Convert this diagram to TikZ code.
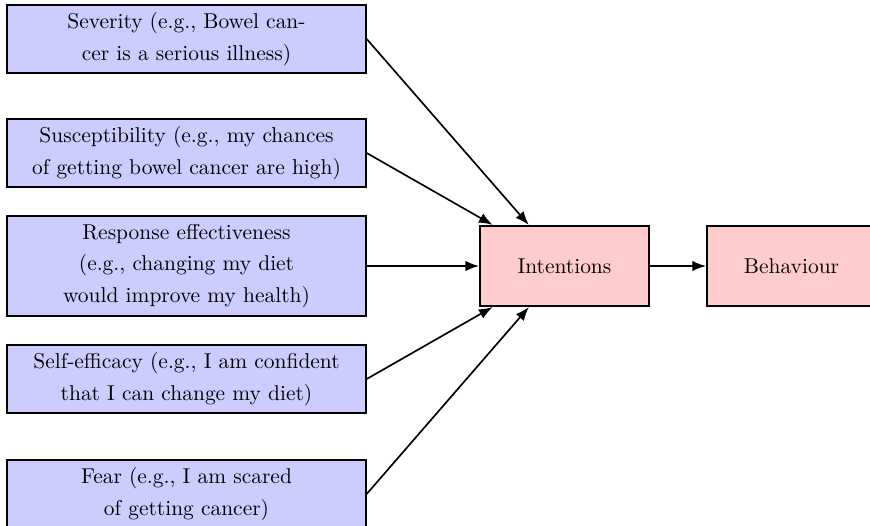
\documentclass[tikz,border=0pt]{standalone}
\usetikzlibrary{arrows.meta}
\begin{document}
\begin{tikzpicture}[x=0.48pt,y=-0.48pt,
  cause/.style={draw=black, line width=1pt, fill=blue!20, minimum width=172pt,
    align=center, font=\fontsize{10.3}{15.1}\selectfont, inner sep=0pt},
  twoline/.style={minimum height=32.6pt},
  threeline/.style={minimum height=48pt},
  outcome/.style={draw=black, line width=1pt, fill=red!20, minimum width=81pt,
    minimum height=38.4pt, font=\fontsize{10.3}{15.1}\selectfont},
  link/.style={-{Latex[length=6.6pt,width=5pt]}, line width=0.8pt}]
\useasboundingbox (0,0) rectangle (870,526);
\clip (0,0) rectangle (870,526);
\node[cause,twoline] (sev) at (186.5,39) {Severity (e.g., Bowel can-\\cer is a serious illness)};
\node[cause,twoline] (sus) at (186.5,153) {Susceptibility (e.g., my chances\\of getting bowel cancer are high)};
\node[cause,threeline] (res) at (186.5,266) {Response effectiveness\\(e.g., changing my diet\\would improve my health)};
\node[cause,twoline] (eff) at (186.5,379) {Self-efficacy (e.g., I am confident\\that I can change my diet)};
\node[cause,twoline] (fear) at (186.5,494) {Fear (e.g., I am scared\\of getting cancer)};
\node[outcome] (int) at (564.5,266) {Intentions};
\node[outcome] (beh) at (791.5,266) {Behaviour};
\draw[link] (sev.east) -- (int);
\draw[link] (sus.east) -- (int);
\draw[link] (res.east) -- (int);
\draw[link] (eff.east) -- (int);
\draw[link] (fear.east) -- (int);
\draw[link] (int) -- (beh);
\end{tikzpicture}
\end{document}
